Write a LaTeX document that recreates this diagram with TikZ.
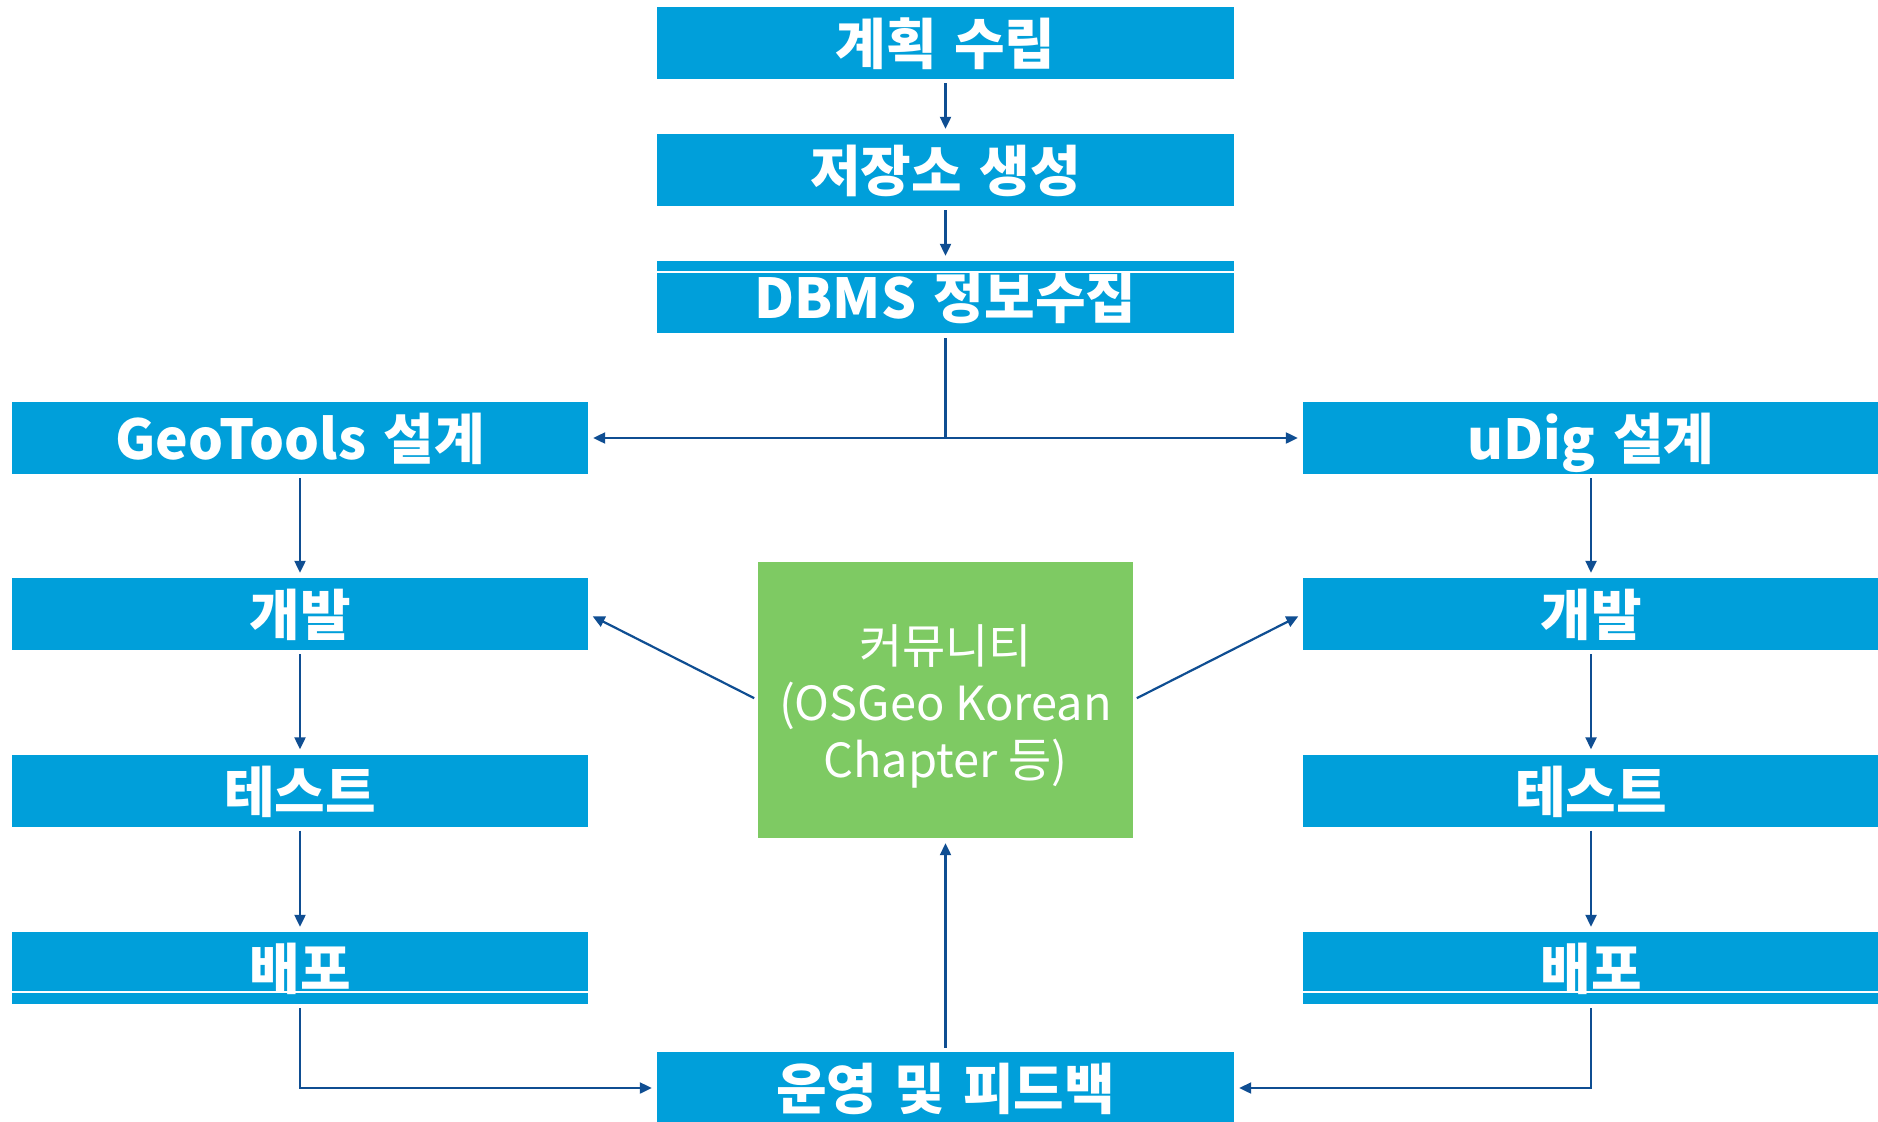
\documentclass[tikz,border=0pt]{standalone}
\usepackage{fontspec}
\setmainfont{Noto Sans CJK KR}
\newfontfamily\boxfont[WordSpace=1.4]{Noto Sans CJK KR}
\usetikzlibrary{arrows.meta}
\definecolor{boxblue}{HTML}{009FDA}
\definecolor{boxgreen}{HTML}{7ECA63}
\definecolor{arrblue}{HTML}{0F4E92}
\tikzset{
  stepbox/.style={fill=boxblue, text=white, minimum height=72pt, inner sep=0pt,
    text height=50pt, text depth=7pt,
    font=\boxfont\bfseries\fontsize{55}{62}\selectfont},
  midbox/.style={stepbox, minimum width=577pt},
  sidebox/.style={stepbox, minimum width=576pt},
  commbox/.style={fill=boxgreen, minimum width=375pt, minimum height=276pt, inner sep=0pt},
  commtext/.style={text=white, align=center, inner sep=0pt, font=\fontsize{47}{57}\selectfont},
  conn/.style={draw=arrblue, line width=2.2pt, -{Triangle[length=12pt,width=11pt]},
    shorten <=4pt, shorten >=5pt},
  plain/.style={draw=arrblue, line width=2.2pt},
  wline/.style={draw=white, line width=1.6pt}
}
\begin{document}
\begin{tikzpicture}[x=1pt,y=-1pt]
\useasboundingbox[fill=white] (0,0) rectangle (1878,1121);

% center column
\node[midbox] (plan) at (945.5,43) {계획 수립};
\node[midbox] (repo) at (945.5,170) {저장소 생성};
\node[midbox] (db) at (945.5,297) {DBMS 정보수집};
\draw[wline] ([yshift=-11pt]db.north west) -- ([yshift=-11pt]db.north east);

% left column
\node[sidebox] (lgeo) at (300,438) {GeoTools 설계};
\node[sidebox] (ldev) at (300,614) {개발};
\node[sidebox] (ltest) at (300,790.5) {테스트};
\node[sidebox] (ldep) at (300,968) {배포};
\draw[wline] ([yshift=12pt]ldep.south west) -- ([yshift=12pt]ldep.south east);

% right column
\node[sidebox] (rudig) at (1591,438) {uDig 설계};
\node[sidebox] (rdev) at (1591,614) {개발};
\node[sidebox] (rtest) at (1591,790.5) {테스트};
\node[sidebox] (rdep) at (1591,968) {배포};
\draw[wline] ([yshift=12pt]rdep.south west) -- ([yshift=12pt]rdep.south east);

% community
\node[commbox, label={[commtext, name=commlbl, yshift=-6pt]center:{커뮤니티\\(OSGeo Korean\\Chapter 등)}}] (comm) at (945.5,700) {};

% bottom
\node[midbox] (ops) at (945.5,1088) {운영 및 피드백};

\coordinate (junc) at (945.5,438);

% connectors
\draw[conn] (plan) -- (repo);
\draw[conn] (repo) -- (db);
\draw[plain, shorten <=5pt] (db.south) -- (junc);
\draw[conn, shorten <=0pt] (junc) -- (lgeo.east);
\draw[conn, shorten <=0pt] (junc) -- (rudig.west);

\draw[conn] (lgeo) -- (ldev);
\draw[conn] (ldev) -- (ltest);
\draw[conn] (ltest) -- (ldep);
\draw[conn] (rudig) -- (rdev);
\draw[conn] (rdev) -- (rtest);
\draw[conn] (rtest) -- (rdep);

\draw[conn] (comm.west) -- (ldev.east);
\draw[conn] (comm.east) -- (rdev.west);

\draw[conn] (ldep.south) |- (ops.west);
\draw[conn] (rdep.south) |- (ops.east);
\draw[conn] (ops.north) -- (comm.south);
\end{tikzpicture}
\end{document}
